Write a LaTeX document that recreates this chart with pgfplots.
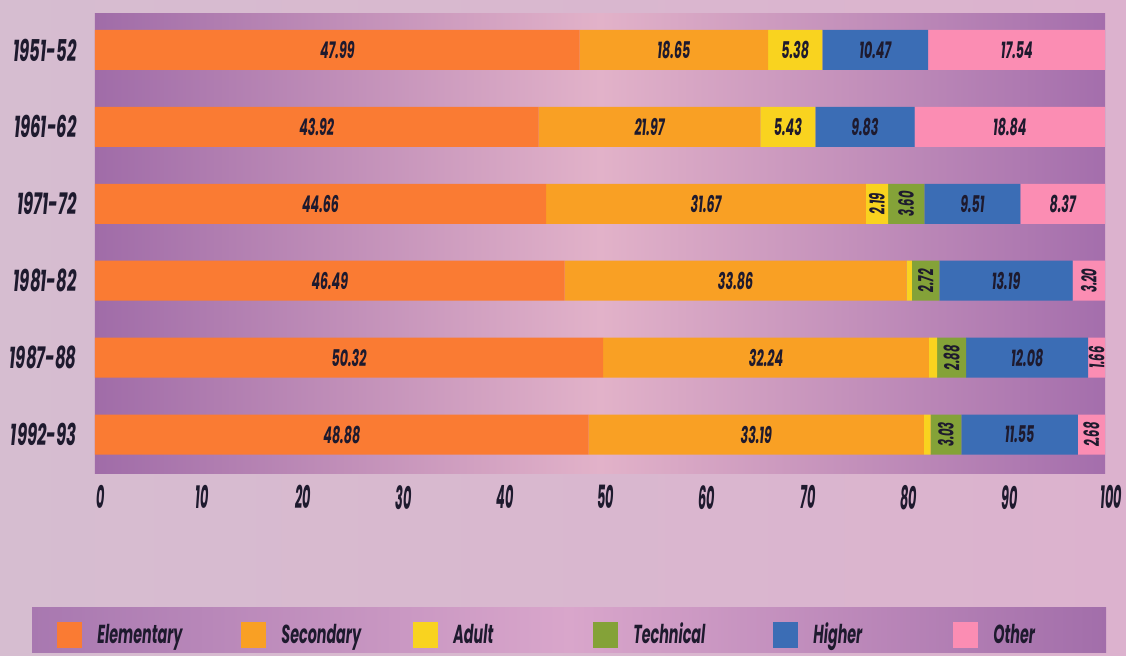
\documentclass[border=0pt]{standalone}
\usepackage{pgfplots}
\pgfplotsset{compat=1.18}
\usepackage{pgfplotstable}
\usepackage{fontspec}
\setmainfont{Poppins}[FakeStretch=0.55]
\newfontfamily\tickfont{Poppins}[FakeStretch=0.40]

\definecolor{elem}{HTML}{FA7B33}
\definecolor{sec}{HTML}{F9A024}
\definecolor{adult}{HTML}{F9D31F}
\definecolor{tech}{HTML}{84A238}
\definecolor{higher}{HTML}{3B6DB5}
\definecolor{other}{HTML}{FB8DB3}
\definecolor{txt}{HTML}{1E1A2E}
\definecolor{stripeL}{HTML}{A06CA8}
\definecolor{stripeM}{HTML}{E2B2C9}
\definecolor{stripeR}{HTML}{A46EAC}
\definecolor{pageL}{HTML}{D6BDD0}
\definecolor{pageR}{HTML}{DCB2CE}
\definecolor{legL}{HTML}{A878B0}
\definecolor{legM}{HTML}{D9A6CB}
\definecolor{legR}{HTML}{A26EAA}

\pgfplotstableread{
y E S A T H O
0 47.99 18.65 5.38 0 10.47 17.54
1 43.92 21.97 5.43 0 9.83 18.84
2 44.66 31.67 2.19 3.60 9.51 8.37
3 46.49 33.86 0.54 2.72 13.19 3.20
4 50.32 32.24 0.82 2.88 12.08 1.66
5 48.88 33.19 0.67 3.03 11.55 2.68
}\data

\pgfplotsset{
  base/.style={scale only axis, width=505pt, height=230pt,
    at={(47.5pt,91pt)}, anchor=south west,
    xmin=0, xmax=100, ymin=-0.48, ymax=5.5, y dir=reverse,
    /pgf/number format/assume math mode=true},
  lab/.style={draw=none, mark=none, nodes near coords={\pgfmathprintnumber[fixed,fixed zerofill,precision=2,assume math mode=true]{\pgfplotspointmeta}},
    every node near coord/.style={anchor=center, inner sep=0pt, text=txt,
      font=\bfseries\itshape\fontsize{11.5}{11.5}\selectfont}},
  rlab/.style={lab, every node near coord/.append style={rotate=90, font=\bfseries\itshape\fontsize{10.5}{10.5}\selectfont}},
}

\begin{document}
\begin{tikzpicture}
\useasboundingbox (0,0) rectangle (563pt,327.5pt);
\shade[left color=pageL, right color=pageR] (0,0) rectangle (563pt,327.5pt);
\shade[left color=legL, right color=legR, middle color=legM] (16pt,1.5pt) rectangle (553pt,24pt);
\begin{axis}[base, xbar stacked, bar width=20pt,
  axis background/.style={left color=stripeL, right color=stripeR, middle color=stripeM},
  axis line style={draw=none}, tick style={draw=none},
  xtick={0,10,...,100}, ytick={0,...,5},
  yticklabels={1951-52,1961-62,1971-72,1981-82,1987-88,1992-93},
  xticklabel style={font=\tickfont\bfseries\itshape\fontsize{16}{16}\selectfont, text=txt, inner sep=0pt, yshift=-6pt, xshift=3pt},
  yticklabel style={font=\bfseries\itshape\fontsize{15}{15}\selectfont, text=txt, inner sep=0pt, xshift=-9pt},
  legend columns=6,
  legend image code/.code={\fill[#1] (0pt,-6.5pt) rectangle (12.5pt,6.5pt);},
  legend style={at={(-0.0376,-0.352)}, anchor=west, draw=none, fill=none, inner sep=0pt,
    nodes={inner sep=0pt, text=txt}, font=\bfseries\itshape\fontsize{13}{13}\selectfont,
    /tikz/every odd column/.append style={column sep=7.5pt}},
]
\addplot[fill=elem, draw=none] table[x=E, y=y] {\data};
\addlegendentry{\makebox[72pt][l]{Elementary}}
\addplot[fill=sec, draw=none] table[x=S, y=y] {\data};
\addlegendentry{\makebox[66pt][l]{Secondary}}
\addplot[fill=adult, draw=none] table[x=A, y=y] {\data};
\addlegendentry{\makebox[70pt][l]{Adult}}
\addplot[fill=tech, draw=none] table[x=T, y=y] {\data};
\addlegendentry{\makebox[70pt][l]{Technical}}
\addplot[fill=higher, draw=none] table[x=H, y=y] {\data};
\addlegendentry{\makebox[70pt][l]{Higher}}
\addplot[fill=other, draw=none] table[x=O, y=y] {\data};
\addlegendentry{\makebox[40pt][l]{Other}}
\end{axis}
\begin{axis}[base, hide axis, clip=false]
\addplot[lab, point meta=\thisrow{E}] table[x expr=\thisrow{E}/2, y=y] {\data};
\addplot[lab, point meta=\thisrow{S}] table[x expr=\thisrow{E}+\thisrow{S}/2, y=y] {\data};
\addplot[lab, point meta=\thisrow{A}, skip coords between index={2}{6}] table[x expr=\thisrow{E}+\thisrow{S}+\thisrow{A}/2, y=y] {\data};
\addplot[rlab, point meta=\thisrow{A}, skip coords between index={0}{2}, skip coords between index={3}{6}] table[x expr=\thisrow{E}+\thisrow{S}+\thisrow{A}/2, y=y] {\data};
\addplot[rlab, point meta=\thisrow{T}, skip coords between index={0}{2}] table[x expr=\thisrow{E}+\thisrow{S}+\thisrow{A}+\thisrow{T}/2, y=y] {\data};
\addplot[lab, point meta=\thisrow{H}] table[x expr=\thisrow{E}+\thisrow{S}+\thisrow{A}+\thisrow{T}+\thisrow{H}/2, y=y] {\data};
\addplot[lab, point meta=\thisrow{O}, skip coords between index={3}{6}] table[x expr=\thisrow{E}+\thisrow{S}+\thisrow{A}+\thisrow{T}+\thisrow{H}+\thisrow{O}/2, y=y] {\data};
\addplot[rlab, point meta=\thisrow{O}, skip coords between index={0}{3}] table[x expr=\thisrow{E}+\thisrow{S}+\thisrow{A}+\thisrow{T}+\thisrow{H}+\thisrow{O}/2, y=y] {\data};
\end{axis}
\end{tikzpicture}
\end{document}
